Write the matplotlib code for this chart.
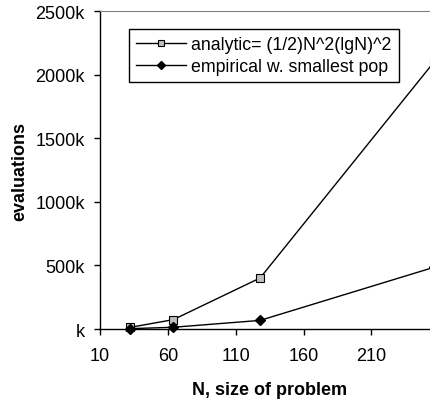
import matplotlib.pyplot as plt
from matplotlib.ticker import FuncFormatter

plt.rcParams['font.family'] = ['Liberation Sans', 'DejaVu Sans']

n_sizes = [32, 64, 128, 256]
analytic = [12800, 73728, 401408, 2097152]
empirical = [3000, 14000, 68000, 485000]

x_ticks = [10, 60, 110, 160, 210]
y_ticks = [0, 500000, 1000000, 1500000, 2000000, 2500000]

fig = plt.figure(figsize=(4.31, 4.02), dpi=100)
ax = fig.add_axes([0.232, 0.179, 0.787, 0.791])

ax.plot(n_sizes, analytic, color='black', lw=1, marker='s', ms=5.5,
        mfc='#c0c0c0', mec='black', mew=0.8, clip_on=False,
        label='analytic= (1/2)N^2(lgN)^2')
ax.plot(n_sizes, empirical, color='black', lw=1, marker='D', ms=5,
        mfc='black', mec='black', clip_on=False,
        label='empirical w. smallest pop')

ax.set_xlim(10, 260)
ax.set_ylim(0, 2500000)
ax.set_xticks(x_ticks)
ax.set_yticks(y_ticks)
ax.yaxis.set_major_formatter(FuncFormatter(lambda v, p: '%dk' % (v / 1000) if v else 'k'))
ax.tick_params(direction='out', length=4, width=1, labelsize=13)
ax.tick_params(axis='y', pad=7)
ax.tick_params(axis='x', pad=9)

ax.spines['top'].set_color('#808080')
ax.spines['right'].set_visible(False)
for s in ['left', 'bottom']:
    ax.spines[s].set_linewidth(1)

ax.set_xlabel('N, size of problem', fontsize=13, fontweight='bold', labelpad=12)
ax.set_ylabel('evaluations', fontsize=13, fontweight='bold', labelpad=5)

leg = ax.legend(loc='upper left', bbox_to_anchor=(0.085, 0.944), fontsize=12.8,
                frameon=True, fancybox=False, framealpha=1, edgecolor='black',
                handlelength=2.8, handletextpad=0.3, borderpad=0.4, labelspacing=0.3,
                borderaxespad=0, markerscale=0.75)
leg.get_frame().set_linewidth(1)

fig.savefig('out.png', dpi=100)
